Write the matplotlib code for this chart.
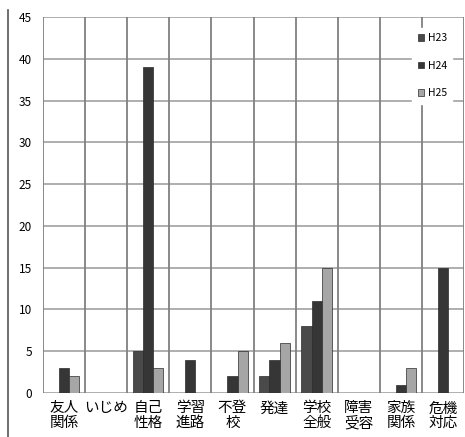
import numpy as np
import matplotlib.pyplot as plt
from matplotlib.lines import Line2D

plt.rcParams['font.family'] = ['Noto Sans CJK JP', 'DejaVu Sans']

categories = ['友人\n関係', 'いじめ', '自己\n性格', '学習\n進路', '不登\n校',
              '発達', '学校\n全般', '障害\n受容', '家族\n関係', '危機\n対応']
h23 = [0, 0, 5, 0, 0, 2, 8, 0, 0, 0]
h24 = [3, 0, 39, 4, 2, 4, 11, 0, 1, 15]
h25 = [2, 0, 3, 0, 5, 6, 15, 0, 3, 0]
series = ['H23', 'H24', 'H25']
colors = ['#4a4a4a', '#363636', '#a6a6a6']

fig = plt.figure(figsize=(4.65, 4.37), dpi=100)
ax = fig.add_axes([43 / 465, 44 / 437, 421 / 465, 376 / 437])

x = np.arange(len(categories))
w = 0.24
for i, (vals, name, c) in enumerate(zip([h23, h24, h25], series, colors)):
    ax.bar(x + (i - 1) * w, vals, w, color=c, edgecolor='#2a2a2a',
           linewidth=0.5, label=name, zorder=3)

ax.set_xlim(-0.5, len(categories) - 0.5)
ax.set_ylim(0, 45)
ax.set_yticks(range(0, 46, 5))
ax.set_xticks(x)
ax.set_xticklabels(categories, fontsize=10.5, va='top', linespacing=1.05)
ax.tick_params(axis='both', length=0, colors='black')
ax.tick_params(axis='y', labelsize=8.5, pad=8)
ax.tick_params(axis='x', pad=6)

# grid: horizontal lines at ticks, vertical lines between categories
for yv in range(0, 46, 5):
    ax.axhline(yv, color='#a8a8a8', lw=1.3, zorder=1)
for xv in np.arange(-0.5, len(categories), 1.0):
    ax.axvline(xv, color='#808080', lw=1.3, zorder=1)
for s in ax.spines.values():
    s.set_visible(False)

leg = ax.legend(loc='upper right', bbox_to_anchor=(0.985, 0.985), frameon=True,
                fontsize=7.5, handlelength=0.6, handleheight=0.6,
                labelspacing=1.7, borderpad=0.5, handletextpad=0.4)
leg.get_frame().set_edgecolor('white')
leg.get_frame().set_facecolor('white')
leg.get_frame().set_alpha(1)

fig.add_artist(Line2D([8 / 465, 8 / 465], [0, 427 / 437],
                      transform=fig.transFigure, color='#555555', lw=1.2))

fig.savefig('out.png', dpi=100, facecolor='white')
